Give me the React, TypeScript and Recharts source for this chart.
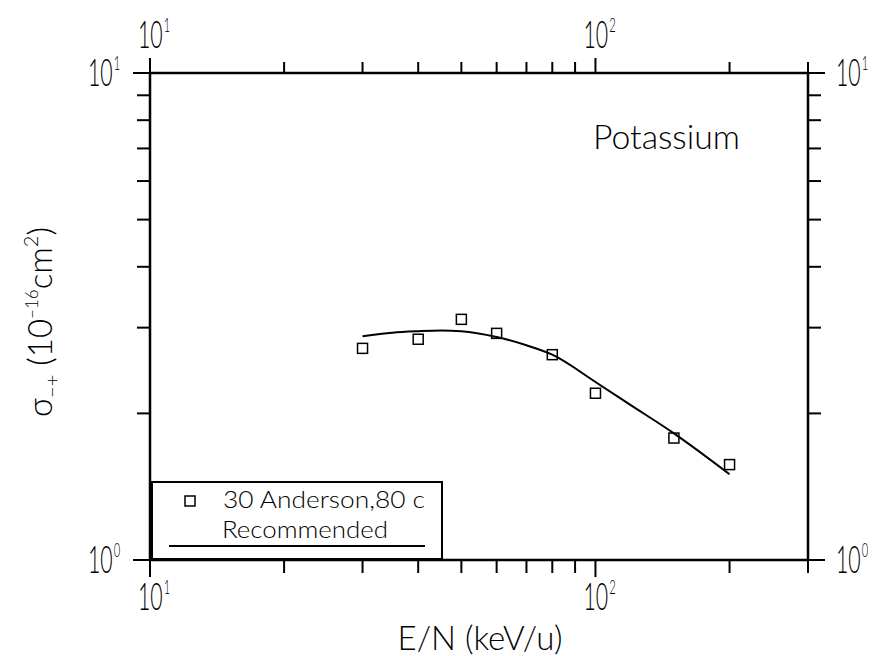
import React from 'react';
import { ComposedChart, XAxis, YAxis, Line, Scatter, Legend, Customized } from 'recharts';

// Anderson '80 measurements (E/N in keV/u, sigma in 1e-16 cm^2)
const andersonEnergy = [30, 40, 50, 60, 80, 100, 150, 200];
const andersonSigma = [2.72, 2.84, 3.12, 2.92, 2.64, 2.2, 1.78, 1.57];

// recommended curve
const recEnergy = [30, 35, 40, 45, 50, 60, 70, 80, 100, 120, 150, 200];
const recSigma = [2.88, 2.93, 2.95, 2.96, 2.95, 2.87, 2.76, 2.64, 2.32, 2.08, 1.82, 1.5];

const xTicks = [10, 20, 30, 40, 50, 60, 70, 80, 90, 100, 200, 300];
const yTicks = [1, 2, 3, 4, 5, 6, 7, 8, 9, 10];
const xExp: Record<number, string> = { 10: '1', 100: '2' };
const yExp: Record<number, string> = { 1: '0', 10: '1' };

const FONT = 'Lato, "Open Sans", sans-serif';

const andersonData = andersonEnergy.map((e, i) => ({ e, s: andersonSigma[i] }));
const recData = recEnergy.map((e, i) => ({ e, s: recSigma[i] }));

// "10^n" drawn narrow like the plotter font
function Pow({ x, y, exp }: { x: number; y: number; exp: string }) {
    return (
        <g transform={`translate(${x},${y}) scale(0.56,1)`}>
            <text x={0} y={0} fontSize={38} fontWeight={300} fill="#000">
                10<tspan fontSize={20} dx={2} dy={-16}>{exp}</tspan>
            </text>
        </g>
    );
}

const BottomTick = ({ x, y, payload }: any) => {
    const exp = xExp[payload.value];
    return (
        <g>
            <line x1={x} x2={x} y1={y} y2={y + (exp ? 17 : 13)} stroke="#000" strokeWidth={2} />
            {exp && <Pow x={x - 12} y={y + 50} exp={exp} />}
        </g>
    );
};

const TopTick = ({ x, y, payload }: any) => {
    const exp = xExp[payload.value];
    return (
        <g>
            <line x1={x} x2={x} y1={y} y2={y - (exp ? 15 : 11)} stroke="#000" strokeWidth={2} />
            {exp && <Pow x={x - 12} y={y - 25} exp={exp} />}
        </g>
    );
};

const LeftTick = ({ x, y, payload }: any) => {
    const exp = yExp[payload.value];
    return (
        <g>
            <line x1={x} x2={x - (exp ? 17 : 13)} y1={y} y2={y} stroke="#000" strokeWidth={2} />
            {exp && <Pow x={x - 62} y={y + 13} exp={exp} />}
        </g>
    );
};

const RightTick = ({ x, y, payload }: any) => {
    const exp = yExp[payload.value];
    return (
        <g>
            <line x1={x} x2={x + (exp ? 17 : 13)} y1={y} y2={y} stroke="#000" strokeWidth={2} />
            {exp && <Pow x={x + 28} y={y + 13} exp={exp} />}
        </g>
    );
};

const SquareDot = (props: any) => {
    const { cx, cy } = props;
    return <rect x={cx - 5} y={cy - 5} width={10} height={10} fill="none" stroke="#000" strokeWidth={1.5} />;
};

const Titles = () => (
    <g fill="#000" fontWeight={300}>
        <text x={472} y={642} fontSize={34} textAnchor="middle" textLength={165} lengthAdjust="spacingAndGlyphs">
            E/N (keV/u)
        </text>
        <text x={585} y={141} fontSize={33} textLength={147} lengthAdjust="spacingAndGlyphs">
            Potassium
        </text>
        <text transform="rotate(-90)" x={-314} y={44} fontSize={33} textAnchor="middle">
            σ<tspan fontSize={20} dy={7}>−+</tspan>
            <tspan fontSize={33} dy={-7}> (10</tspan>
            <tspan fontSize={17} dy={-14}>−16</tspan>
            <tspan fontSize={33} dy={14}>cm</tspan>
            <tspan fontSize={20} dy={-14}>2</tspan>
            <tspan fontSize={33} dy={14}>)</tspan>
        </text>
    </g>
);

const LegendBox = () => (
    <svg width={292} height={79} style={{ display: 'block', fontFamily: FONT }}>
        <rect x={1} y={1} width={290} height={77} fill="none" stroke="#000" strokeWidth={2} />
        <rect x={34} y={15} width={10} height={10} fill="none" stroke="#000" strokeWidth={1.5} />
        <text x={72} y={27} fontSize={24} fontWeight={300} textLength={202} lengthAdjust="spacingAndGlyphs">
            30 Anderson,80 c
        </text>
        <text x={71} y={57} fontSize={24} fontWeight={300} textLength={166} lengthAdjust="spacingAndGlyphs">
            Recommended
        </text>
        <line x1={18} x2={274} y1={65} y2={65} stroke="#000" strokeWidth={2} />
    </svg>
);

export default function App() {
    const axisLine = { stroke: '#000', strokeWidth: 2.5 };
    return (
        <div style={{ width: 868, height: 648, background: '#fff' }}>
            <ComposedChart
                width={868}
                height={648}
                margin={{ top: 0, right: 0, bottom: 0, left: 0 }}
                style={{ fontFamily: FONT, overflow: 'visible' }}
            >
                <XAxis
                    xAxisId="bottom"
                    dataKey="e"
                    type="number"
                    scale="log"
                    domain={[10, 300]}
                    allowDataOverflow
                    ticks={xTicks}
                    interval={0}
                    height={96}
                    tickSize={0}
                    tickMargin={0}
                    tickLine={false}
                    axisLine={axisLine}
                    tick={(p: any) => <BottomTick {...p} />}
                />
                <XAxis
                    xAxisId="top"
                    dataKey="e"
                    orientation="top"
                    type="number"
                    scale="log"
                    domain={[10, 300]}
                    allowDataOverflow
                    ticks={xTicks}
                    interval={0}
                    height={65}
                    tickSize={0}
                    tickMargin={0}
                    tickLine={false}
                    axisLine={axisLine}
                    tick={(p: any) => <TopTick {...p} />}
                />
                <YAxis
                    yAxisId="left"
                    dataKey="s"
                    type="number"
                    scale="log"
                    domain={[1, 10]}
                    allowDataOverflow
                    ticks={yTicks}
                    interval={0}
                    width={142}
                    tickSize={0}
                    tickMargin={0}
                    tickLine={false}
                    axisLine={axisLine}
                    tick={(p: any) => <LeftTick {...p} />}
                />
                <YAxis
                    yAxisId="right"
                    dataKey="s"
                    orientation="right"
                    type="number"
                    scale="log"
                    domain={[1, 10]}
                    allowDataOverflow
                    ticks={yTicks}
                    interval={0}
                    width={68}
                    tickSize={0}
                    tickMargin={0}
                    tickLine={false}
                    axisLine={axisLine}
                    tick={(p: any) => <RightTick {...p} />}
                />
                <Line
                    xAxisId="bottom"
                    yAxisId="left"
                    data={recData}
                    dataKey="s"
                    type="monotone"
                    stroke="#000"
                    strokeWidth={2}
                    dot={false}
                    isAnimationActive={false}
                />
                {/* invisible copy so the top/right frame axes get a domain */}
                <Line
                    xAxisId="top"
                    yAxisId="right"
                    data={recData}
                    dataKey="s"
                    stroke="none"
                    dot={false}
                    activeDot={false}
                    legendType="none"
                    isAnimationActive={false}
                />
                <Scatter
                    xAxisId="bottom"
                    yAxisId="left"
                    data={andersonData}
                    dataKey="s"
                    shape={SquareDot}
                    isAnimationActive={false}
                />
                <Legend
                    layout="vertical"
                    align="center"
                    verticalAlign="middle"
                    content={() => <LegendBox />}
                    wrapperStyle={{ left: 143, top: 473, width: 292, height: 79 }}
                />
                <Customized component={Titles} />
            </ComposedChart>
        </div>
    );
}
